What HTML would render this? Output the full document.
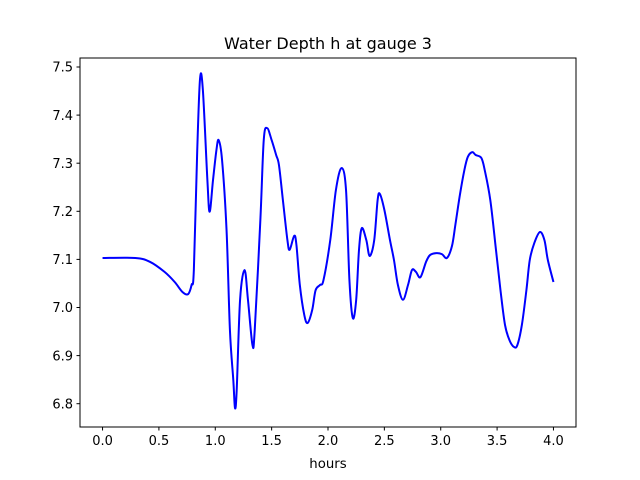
<!DOCTYPE html>
<html><head><meta charset="utf-8"><style>
body{margin:0;background:#fff}
svg{display:block;font-family:"DejaVu Sans","Liberation Sans",sans-serif}
</style></head><body>
<svg id="chart" width="640" height="480">
<rect width="640" height="480" fill="#fff"/>
<text x="328" y="49" text-anchor="middle" font-size="16">Water Depth h at gauge 3</text>
<g id="xt"></g>
<g id="yt"></g>
<path id="line" fill="none" stroke="#0000ff" stroke-width="2" stroke-linejoin="round"/>
<rect x="80" y="58" width="496" height="369" fill="none" stroke="#000" stroke-width="1"/>
<text x="328" y="468" text-anchor="middle" font-size="13.3">hours</text>
</svg>
<script>
const hours=[0,0.29,0.42,0.55,0.64,0.71,0.76,0.79,0.81,0.84,0.865,0.89,0.93,0.95,0.98,1.01,1.03,1.06,1.10,1.13,1.16,1.175,1.19,1.22,1.26,1.29,1.33,1.35,1.40,1.43,1.46,1.50,1.54,1.565,1.60,1.64,1.66,1.70,1.72,1.75,1.79,1.82,1.86,1.89,1.93,1.96,2.02,2.07,2.12,2.16,2.19,2.22,2.25,2.275,2.30,2.34,2.37,2.41,2.44,2.46,2.50,2.55,2.585,2.62,2.665,2.71,2.745,2.78,2.82,2.87,2.905,2.96,3.01,3.055,3.10,3.13,3.17,3.21,3.24,3.28,3.31,3.36,3.39,3.44,3.49,3.53,3.57,3.61,3.65,3.68,3.72,3.76,3.79,3.83,3.88,3.92,3.95,4.00];
const depth=[7.103,7.103,7.095,7.074,7.053,7.032,7.028,7.047,7.078,7.327,7.476,7.452,7.265,7.199,7.265,7.327,7.348,7.307,7.161,6.953,6.849,6.791,6.828,7.016,7.078,7.016,6.922,6.953,7.182,7.348,7.373,7.348,7.317,7.296,7.223,7.140,7.120,7.149,7.130,7.047,6.984,6.968,6.995,7.036,7.047,7.057,7.140,7.244,7.290,7.244,7.057,6.978,7.016,7.120,7.165,7.140,7.107,7.140,7.223,7.236,7.203,7.140,7.099,7.047,7.016,7.047,7.078,7.074,7.063,7.095,7.109,7.113,7.111,7.103,7.128,7.172,7.234,7.286,7.313,7.323,7.317,7.311,7.286,7.223,7.120,7.036,6.964,6.932,6.918,6.922,6.964,7.036,7.099,7.134,7.157,7.140,7.099,7.053];
const xTicks=[0,0.5,1,1.5,2,2.5,3,3.5,4];
const xTickLabels=["0.0","0.5","1.0","1.5","2.0","2.5","3.0","3.5","4.0"];
const yTicks=[6.8,6.9,7.0,7.1,7.2,7.3,7.4,7.5];
const yTickLabels=["6.8","6.9","7.0","7.1","7.2","7.3","7.4","7.5"];
const X=v=>80+(v+0.2)/4.4*496;
const Y=v=>67+(7.5-v)*481;
const NS="http://www.w3.org/2000/svg";
function mk(t,a,p){const e=document.createElementNS(NS,t);for(const k in a)e.setAttribute(k,a[k]);p.appendChild(e);return e;}
const xg=document.getElementById('xt'),yg=document.getElementById('yt');
xTicks.forEach((v,i)=>{const x=X(v);
 const l=mk('line',{x1:x,x2:x,y1:427,y2:430.5,stroke:'#000'},xg);
 
 
 const t=mk('text',{x:x,y:445,'text-anchor':'middle','font-size':'13'},xg);t.textContent=xTickLabels[i];
 
 });
yTicks.forEach((v,i)=>{const y=Y(v);
 const l=mk('line',{x1:76.5,x2:80,y1:y,y2:y,stroke:'#000'},yg);
 
 
 const t=mk('text',{x:73,y:y+4.7,'text-anchor':'end','font-size':'13'},yg);t.textContent=yTickLabels[i];
 
 });
const pts=hours.map((h,i)=>[X(h),Y(depth[i])]);
let d='M'+pts[0][0]+','+pts[0][1];
for(let i=0;i<pts.length-1;i++){const p0=pts[Math.max(0,i-1)],p1=pts[i],p2=pts[i+1],p3=pts[Math.min(pts.length-1,i+2)];
 const c1=[p1[0]+(p2[0]-p0[0])/6,p1[1]+(p2[1]-p0[1])/6],c2=[p2[0]-(p3[0]-p1[0])/6,p2[1]-(p3[1]-p1[1])/6];
 d+=` C${c1[0]},${c1[1]} ${c2[0]},${c2[1]} ${p2[0]},${p2[1]}`;}
document.getElementById('line').setAttribute('d',d);
</script>
</body></html>
